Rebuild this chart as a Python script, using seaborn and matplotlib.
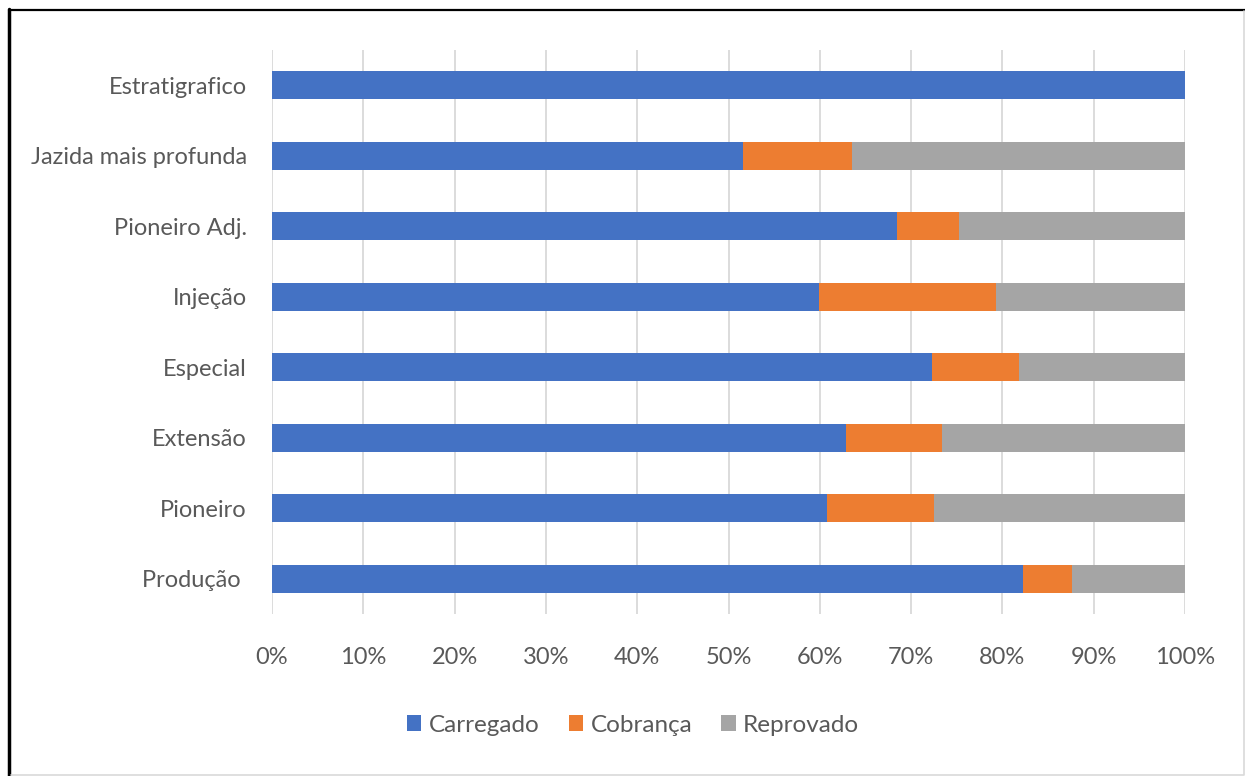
import matplotlib
matplotlib.use("Agg")
import matplotlib.pyplot as plt
from matplotlib.patches import Patch
from matplotlib.lines import Line2D
import numpy as np
import pandas as pd
import seaborn as sns

# Share of wells per category (percent)
categories = ["Estratigrafico", "Jazida mais profunda", "Pioneiro Adj.", "Injeção",
              "Especial", "Extensão", "Pioneiro", "Produção "]
carregado = [100.0, 51.6, 68.5, 59.9, 72.3, 62.9, 60.8, 82.3]
cobranca = [0.0, 11.9, 6.7, 19.4, 9.5, 10.5, 11.7, 5.3]
reprovado = [0.0, 36.5, 24.8, 20.7, 18.2, 26.6, 27.5, 12.4]
series_names = ["Carregado", "Cobrança", "Reprovado"]
x_ticks = list(range(0, 101, 10))
x_ticklabels = [f"{t}%" for t in x_ticks]

colors = {"Carregado": "#4472C4", "Cobrança": "#ED7D31", "Reprovado": "#A5A5A5"}
text_color = "#595959"

sns.set_theme(style="white")
plt.rcParams["font.family"] = ["Lato", "DejaVu Sans"]

df = pd.DataFrame({"cat": categories, "Carregado": carregado,
                   "Cobrança": cobranca, "Reprovado": reprovado})
# cumulative ends of each stacked segment
df["end_car"] = df["Carregado"]
df["end_cob"] = df["Carregado"] + df["Cobrança"]
df["end_rep"] = df["end_cob"] + df["Reprovado"]

fig = plt.figure(figsize=(12.45, 7.76), dpi=100)
ax = fig.add_axes([272 / 1245, 1 - 614 / 776, (1185 - 272) / 1245, (614 - 50) / 776])

# paint segments back to front so each visible part shows its own series
for end_col, name in [("end_rep", "Reprovado"), ("end_cob", "Cobrança"), ("end_car", "Carregado")]:
    sns.barplot(data=df, y="cat", x=end_col, order=categories, orient="h",
                color=colors[name], saturation=1, width=0.4, ax=ax,
                linewidth=0, zorder=3)

ax.set_xlim(0, 100)
ax.set_ylim(7.5, -0.5)
ax.set_xticks(x_ticks)
ax.set_xticklabels(x_ticklabels)
ax.set_xlabel("")
ax.set_ylabel("")
ax.grid(axis="x", color="#D9D9D9", linewidth=1.3, zorder=0)
ax.grid(axis="y", visible=False)
ax.set_axisbelow(True)
for s in ax.spines.values():
    s.set_visible(False)
ax.tick_params(axis="x", length=0, pad=24, labelsize=17, labelcolor=text_color)
ax.tick_params(axis="y", length=0, pad=18, labelsize=17, labelcolor=text_color)

handles = [Patch(facecolor=colors[n], edgecolor="none") for n in series_names]
fig.legend(handles, series_names, loc="center", bbox_to_anchor=(633 / 1245, 1 - 725 / 776),
           ncol=3, frameon=False, fontsize=17.5, labelcolor=text_color,
           handlelength=0.6, handleheight=0.6, handletextpad=0.3, columnspacing=1.2)

# chart frame: dark rule on top/left, light outline around
fig.add_artist(Line2D([9 / 1245, 9 / 1245], [0, 1 - 9 / 776], transform=fig.transFigure,
                      color="black", linewidth=2.5))
fig.add_artist(Line2D([9 / 1245, 1], [1 - 9.5 / 776, 1 - 9.5 / 776], transform=fig.transFigure,
                      color="black", linewidth=1.6))
fig.add_artist(Line2D([11 / 1245, 1244 / 1245, 1244 / 1245], [1 / 776, 1 / 776, 1 - 11 / 776],
                      transform=fig.transFigure, color="#D9D9D9", linewidth=1.2))

fig.savefig("out.png", dpi=100)
